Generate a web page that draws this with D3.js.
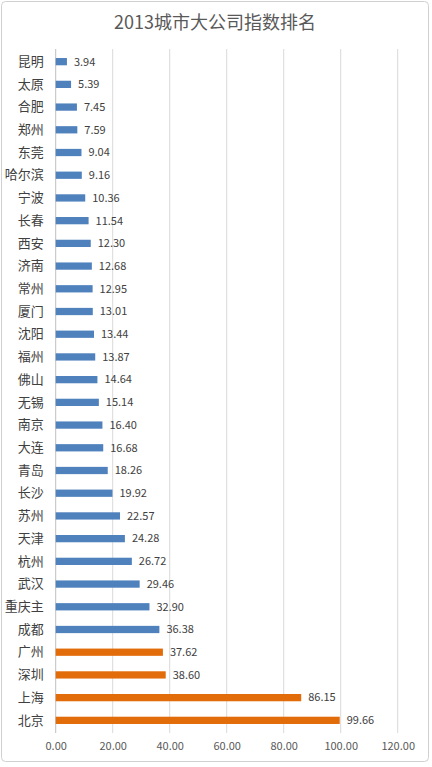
<!DOCTYPE html>
<html>
<head>
<meta charset="utf-8">
<script src="https://cdn.jsdelivr.net/npm/d3@7"></script>
<style>
  html, body { margin: 0; padding: 0; background: #fff; }
  svg { display: block; font-family: "Noto Sans CJK SC", "Microsoft YaHei", sans-serif; }
</style>
</head>
<body>
<svg id="chart" width="432" height="767"></svg>
<script>
// city names, top to bottom
var cities = ["昆明", "太原", "合肥", "郑州", "东莞", "哈尔滨", "宁波", "长春", "西安", "济南",
  "常州", "厦门", "沈阳", "福州", "佛山", "无锡", "南京", "大连", "青岛", "长沙",
  "苏州", "天津", "杭州", "武汉", "重庆主", "成都", "广州", "深圳", "上海", "北京"];
var scores = [3.94, 5.39, 7.45, 7.59, 9.04, 9.16, 10.36, 11.54, 12.30, 12.68,
  12.95, 13.01, 13.44, 13.87, 14.64, 15.14, 16.40, 16.68, 18.26, 19.92,
  22.57, 24.28, 26.72, 29.46, 32.90, 36.38, 37.62, 38.60, 86.15, 99.66];
// the four top cities are highlighted
var highlight = ["广州", "深圳", "上海", "北京"];
var ticks = [0, 20, 40, 60, 80, 100, 120];
var title = "2013城市大公司指数排名";

var svg = d3.select("#chart");

// outer frame like the excel chart area
svg.append("rect")
  .attr("x", 1.5).attr("y", 1.5)
  .attr("width", 427).attr("height", 760)
  .attr("rx", 4)
  .attr("fill", "#fff")
  .attr("stroke", "#d0d0d0");

var x = d3.scaleLinear().domain([0, 120]).range([55.7, 397.7]);
var y = d3.scaleBand().domain(cities).range([50.3, 731.7]).paddingInner(0.68).paddingOuter(0.34);

// gridlines
svg.append("g").selectAll("line")
  .data(ticks)
  .enter().append("line")
  .attr("x1", function (d) { return x(d); })
  .attr("x2", function (d) { return x(d); })
  .attr("y1", 49)
  .attr("y2", 733)
  .attr("stroke", function (d) { return d === 0 ? "#bfbfbf" : "#d9d9d9"; })
  .attr("stroke-width", 1);

svg.append("text")
  .attr("x", 215).attr("y", 29)
  .attr("text-anchor", "middle")
  .attr("font-size", 18)
  .attr("fill", "#595959")
  .text(title);

// bars
svg.append("g").selectAll("rect")
  .data(cities)
  .enter().append("rect")
  .attr("x", x(0))
  .attr("y", function (d) { return y(d); })
  .attr("width", function (d, i) { return x(scores[i]) - x(0); })
  .attr("height", y.bandwidth())
  .attr("fill", function (d) { return highlight.indexOf(d) >= 0 ? "#e36c0a" : "#4f81bd"; });

// value labels
svg.append("g").selectAll("text")
  .data(cities)
  .enter().append("text")
  .attr("x", function (d, i) { return x(scores[i]) + 7; })
  .attr("y", function (d) { return y(d) + y.bandwidth() / 2; })
  .attr("dy", "0.35em")
  .attr("font-size", 11)
  .attr("fill", "#404040")
  .text(function (d, i) { return scores[i].toFixed(2); });

// category axis
var yAxis = svg.append("g")
  .attr("transform", "translate(" + x(0) + ",0)")
  .call(d3.axisLeft(y).tickSize(0).tickPadding(12));
yAxis.select(".domain").remove();
yAxis.selectAll("text")
  .attr("font-size", 13)
  .attr("fill", "#404040")
  .style("font-family", "'Noto Sans CJK SC', sans-serif");

// value axis
var xAxis = svg.append("g")
  .attr("transform", "translate(0,733)")
  .call(d3.axisBottom(x).tickValues(ticks).tickSize(0).tickPadding(9).tickFormat(d3.format(".2f")));
xAxis.select(".domain").remove();
xAxis.selectAll("text")
  .attr("font-size", 11)
  .attr("fill", "#595959")
  .style("font-family", "'Noto Sans CJK SC', sans-serif");
</script>
</body>
</html>
